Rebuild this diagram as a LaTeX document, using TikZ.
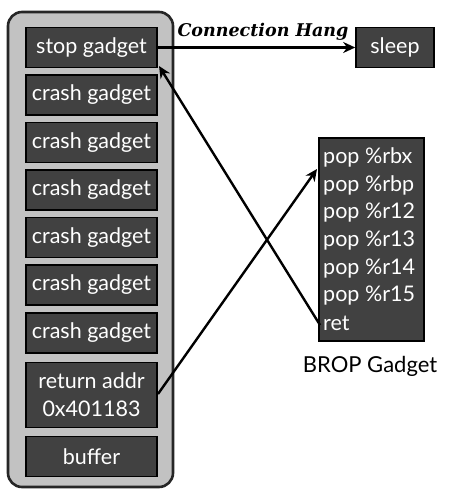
\documentclass[tikz,border=0pt]{standalone}
\usepackage{fontspec}
\setmainfont{Lato}
\newfontfamily\hangfont{DejaVu Serif}
\usetikzlibrary{arrows.meta}
\definecolor{boxgray}{HTML}{414141}
\definecolor{outergray}{HTML}{C2C2C2}
\tikzset{
  stackbox/.style={draw=black, line width=1.6pt, fill=boxgray, text=white,
    minimum width=131pt, minimum height=40pt, inner sep=0pt, font=\fontsize{21.5}{24}\selectfont, align=center},
  conn/.style={line width=2.4pt, -{Stealth[length=12pt,width=11pt]}},
}
\begin{document}
\begin{tikzpicture}[x=1pt,y=-1pt]
\useasboundingbox (0,0) rectangle (451,503);
\node[draw=black!85, line width=2.6pt, fill=outergray, rounded corners=14pt,
  minimum width=165pt, minimum height=475pt, inner sep=0pt] (stack) at (90.5,249.5) {};
\node[stackbox] (stop) at (91.5,47.5) {stop gadget};
\node[stackbox] (c1) at (91.5,95) {crash gadget};
\node[stackbox] (c2) at (91.5,142.5) {crash gadget};
\node[stackbox] (c3) at (91.5,190) {crash gadget};
\node[stackbox] (c4) at (91.5,237.5) {crash gadget};
\node[stackbox] (c5) at (91.5,285) {crash gadget};
\node[stackbox] (c6) at (91.5,333) {crash gadget};
\node[stackbox, minimum height=65pt, font=\fontsize{21.5}{28}\selectfont] (ret) at (91.5,395) {return addr\\0x401183};
\node[stackbox] (buf) at (91.5,456.5) {buffer};
\node[stackbox, minimum width=78pt] (sleep) at (395,47.5) {sleep};
\node[draw=black, line width=1.6pt, fill=boxgray, text=white, minimum width=105pt,
  minimum height=203pt, inner sep=0pt] (brop) at (371.5,239.5) {};
\begin{scope}[font=\fontsize{21.5}{24}\selectfont, text=white, anchor=west, inner sep=0pt]
\node (p1) at (323,157) {pop \%rbx};
\node (p2) at (323,185) {pop \%rbp};
\node (p3) at (323,213) {pop \%r12};
\node (p4) at (323,241) {pop \%r13};
\node (p5) at (323,268.5) {pop \%r14};
\node (p6) at (323,296) {pop \%r15};
\node (p7) at (323,323.5) {ret};
\end{scope}
\node[font=\fontsize{22}{24}\selectfont] (bropl) at (370,366) {BROP Gadget};
\node[font=\hangfont\bfseries\itshape\fontsize{17.5}{20}\selectfont] (hang) at (263,32) {Connection Hang};
\coordinate (stopcorner) at (159,66);
\coordinate (retend) at (158,394);
\coordinate (rbx) at (317,169);
\coordinate (retins) at (320,325);
\draw[conn] (stop.east) -- (sleep.west);
\draw[conn] (retins) -- (stopcorner);
\draw[conn] (retend) -- (rbx);
\end{tikzpicture}
\end{document}
